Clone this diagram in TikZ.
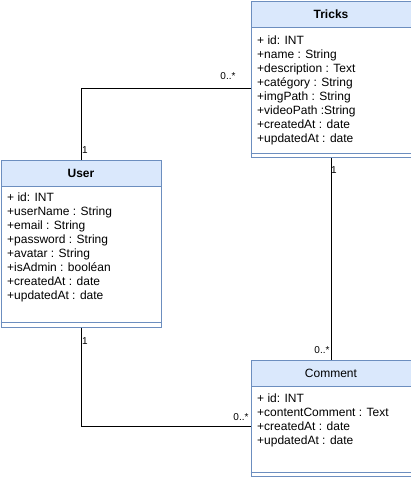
\documentclass[tikz,border=0pt]{standalone}
\usepackage{fontspec}
\setmainfont{Liberation Sans}
\definecolor{umlborder}{HTML}{6C8EBF}
\definecolor{umlhead}{HTML}{DAE8FC}
\begin{document}
\begin{tikzpicture}[x=1pt,y=-1pt,
  classbox/.style={draw=umlborder, fill=white, line width=1pt, inner sep=0pt, anchor=north west, minimum width=160pt},
  headbox/.style={draw=umlborder, fill=umlhead, line width=1pt, inner sep=0pt, anchor=north west, minimum width=160pt, minimum height=26pt},
  sepline/.style={draw=umlborder, line width=1pt},
  titletxt/.style={font=\fontsize{12}{14}\selectfont\bfseries, text=black, inner sep=0pt},
  titleplain/.style={font=\fontsize{12}{14}\selectfont, text=black, inner sep=0pt},
  fields/.style={font=\fontsize{12}{14}\selectfont, align=left, anchor=north west, inner sep=0pt, text=black},
  mult/.style={font=\fontsize{10}{12}\selectfont, inner sep=0pt, text=black},
  assoc/.style={draw=black, line width=1pt}]
\useasboundingbox (0,0) rectangle (411,477);

% Tricks
\node[classbox, minimum height=156.5pt] (tricks) at (250.5,0.5) {};
\node[headbox] (tricksH) at (250.5,0.5) {};
\node[titletxt] (tricksT) at (tricksH.center) {Tricks};
\draw[sepline] (250.5,153) -- (410.5,153);
\node[fields] (tricksF) at (257,36) {+ id: INT\\+name : String\\+description : Text\\+catégory : String\\+imgPath : String\\+videoPath :String\\+createdAt : date\\+updatedAt : date};

% User
\node[classbox, minimum height=167pt] (user) at (0.5,159.5) {};
\node[headbox] (userH) at (0.5,159.5) {};
\node[titletxt] (userT) at (userH.center) {User};
\draw[sepline] (0.5,322) -- (160.5,322);
\node[fields] (userF) at (7,193) {+ id: INT\\+userName : String\\+email : String\\+password : String\\+avatar : String\\+isAdmin : booléan\\+createdAt : date\\+updatedAt : date};

% Comment
\node[classbox, minimum height=116.5pt] (comment) at (250.5,359.5) {};
\node[headbox] (commentH) at (250.5,359.5) {};
\node[titleplain] (commentT) at (commentH.center) {Comment};
\draw[sepline] (250.5,472) -- (410.5,472);
\node[fields] (commentF) at (257,394) {+ id: INT\\+contentComment : Text\\+createdAt : date\\+updatedAt : date};

% connectors
\coordinate (c1) at (80.5,88.5);
\coordinate (c2) at (80.5,426.5);
\draw[assoc] (user.north) |- (tricks.west |- c1);
\draw[assoc] (tricks.south) -- (comment.north);
\draw[assoc] (user.south) |- (comment.west |- c2);

% multiplicities
\node[mult] (m1) at (228,76) {0..*};
\node[mult] (m2) at (85,150) {1};
\node[mult] (m3) at (334,170) {1};
\node[mult] (m4) at (322,350) {0..*};
\node[mult] (m5) at (85,341) {1};
\node[mult] (m6) at (241,417) {0..*};
\end{tikzpicture}
\end{document}
